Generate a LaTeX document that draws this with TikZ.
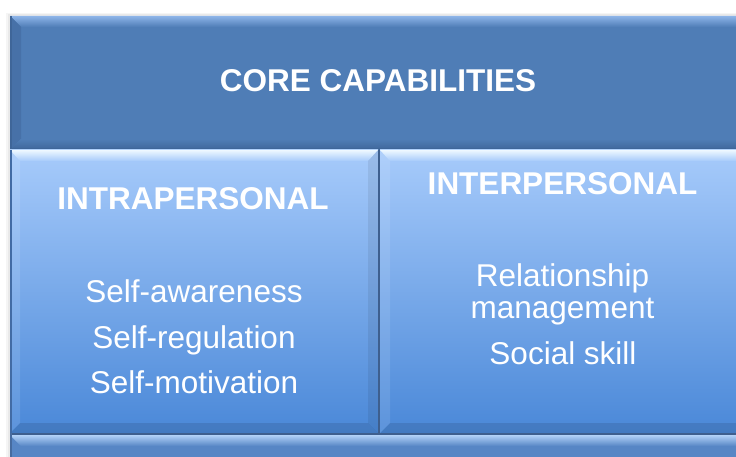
\documentclass[tikz,border=0pt]{standalone}
\usepackage{fontspec}
\setmainfont{Liberation Sans}
\usepackage{tikz}
\usetikzlibrary{calc}

\definecolor{cabecera}{HTML}{4F7DB6}
\definecolor{cabeceraluz}{HTML}{8DB4E8}
\definecolor{cabecerasombra}{HTML}{3F6699}
\definecolor{panelarriba}{HTML}{A7CBFB}
\definecolor{panelabajo}{HTML}{4A88D8}
\definecolor{panelluz}{HTML}{EEF8FF}
\definecolor{divisor}{HTML}{3E5F8E}
\definecolor{franja}{HTML}{5786C5}
\definecolor{franjaluz}{HTML}{B2D2F8}

\begin{document}
\begin{tikzpicture}[x=1pt,y=-1pt,
    txt/.style={text=white,anchor=base,inner sep=0pt,
      font=\fontsize{31.5}{32}\selectfont},
    titulo/.style={txt,font=\bfseries\fontsize{31.5}{32}\selectfont}]
  \useasboundingbox (0,0) rectangle (736,457);
  % Sombra
  \fill[black,opacity=.04] (6,13) rectangle (760,457);
  \fill[black,opacity=.05] (8,14.5) rectangle (760,457);
  % Cabecera
  \fill[cabecera] (10,16) rectangle (750,150);
  \shade[top color=cabeceraluz,bottom color=cabecera]
    (10,16) -- (750,16) -- (740,27) -- (21,27) -- cycle;
  \fill[cabecerasombra!50!cabecera] (10,16) -- (21,27) -- (21,139) -- (10,150) -- cycle;
  \shade[top color=cabecera,bottom color=cabecerasombra]
    (10,150) -- (21,139) -- (740,139) -- (750,150) -- cycle;
  \draw[cabecerasombra,line width=1.5pt] (10.75,16) -- (10.75,150);
  \draw[cabecerasombra,line width=1.5pt] (10,149) -- (750,149);
  % Paneles
  \foreach \xa/\xb in {10/378,380/750}{
    \shade[top color=panelarriba,bottom color=panelabajo]
      (\xa,150) rectangle (\xb,433);
    \shade[top color=panelluz,bottom color=panelarriba]
      (\xa,150) -- (\xb,150) -- (\xb-10,161) -- (\xa+10,161) -- cycle;
    \fill[black,opacity=.07] (\xb,150) -- (\xb-10,161) -- (\xb-10,423) -- (\xb,433) -- cycle;
    \fill[black,opacity=.10] (\xa,433) -- (\xa+10,423) -- (\xb-10,423) -- (\xb,433) -- cycle;
    \fill[white,opacity=.10] (\xa,150) -- (\xa+10,161) -- (\xa+10,423) -- (\xa,433) -- cycle;
  }
  \draw[divisor,line width=2pt] (379,150) -- (379,433);
  \draw[divisor!70!panelabajo,line width=1.5pt] (10.75,150) -- (10.75,433);
  % Franja inferior
  \fill[franja] (10,433) rectangle (750,470);
  \shade[top color=franjaluz,bottom color=franja]
    (10,435) -- (750,435) -- (740,446) -- (21,446) -- cycle;
  \draw[divisor,line width=1.5pt] (10,433.75) -- (750,433.75);
  \draw[divisor!70!franja,line width=1.5pt] (10.75,433) -- (10.75,457);
  % Textos
  \node[titulo] (core) at (378,92) {CORE CAPABILITIES};
  \node[titulo] (intra) at (193,210) {INTRAPERSONAL};
  \node[titulo] (inter) at (562.5,195) {INTERPERSONAL};
  \foreach \t [count=\i] in {Self-awareness,Self-regulation,Self-motivation}
    \node[txt] (self\i) at (194,{302.5+45.5*(\i-1)}) {\t};
  \node[txt] (rel) at (562.5,286.5) {Relationship};
  \node[txt] (man) at (562.5,318) {management};
  \node[txt] (social) at (563,364) {Social skill};
\end{tikzpicture}
\end{document}
